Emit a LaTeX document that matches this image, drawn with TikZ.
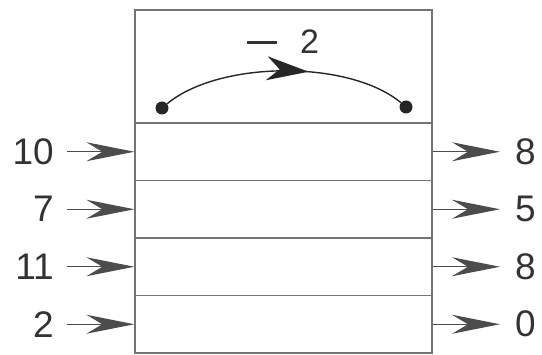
\documentclass[tikz,border=0pt]{standalone}
\usepackage{fontspec}
\setmainfont{Liberation Sans}
\usetikzlibrary{arrows.meta,decorations.markings}
\begin{document}
\begin{tikzpicture}[
    x=1pt,y=-1pt,
    cell/.style={draw=black!55,line width=1.3pt,minimum width=297pt,inner sep=0pt},
    num/.style={text=black!80,font=\fontsize{37}{40}\selectfont,inner sep=0pt},
    arr/.style={-{Stealth[length=48pt,width=19pt,inset=16pt]},draw=black!70,line width=1.3pt},
    dot/.style={circle,fill=black!85,minimum size=13pt,inner sep=0pt}
]
\useasboundingbox (0,0) rectangle (542,355);
\node[cell,minimum height=113pt] (top) at (283.5,66.5) {};
\node[num,font=\fontsize{34}{37}\selectfont,anchor=base] (shift) at (283,54)
  {\textcolor{black!80}{\rule[10pt]{30pt}{2.6pt}}\hspace{23pt}2};
\node[dot] (src) at (162,108) {};
\node[dot] (dst) at (406,107) {};
\draw[line width=1.4pt,draw=black!85,
      postaction={decorate},
      decoration={markings,mark=at position 0.6 with {\arrow{Stealth[length=42pt,width=24pt,inset=13pt]}}}]
    (src) .. controls (220,60) and (350,60) .. (dst);
\foreach \inval/\outval [count=\i] in {10/8,7/5,11/8,2/0} {
  \node[cell,minimum height=57.5pt] (row\i) at (283.5,94.25+57.5*\i) {};
  \node[num,anchor=east] (in\i) at (54,94.25+57.5*\i) {\inval};
  \node[num,anchor=west] (out\i) at (515,94.25+57.5*\i) {\outval};
  \draw[arr,shorten <=13pt] (in\i.east) -- (row\i.west);
  \draw[arr,shorten >=15pt] (row\i.east) -- (out\i.west);
}
\end{tikzpicture}
\end{document}
